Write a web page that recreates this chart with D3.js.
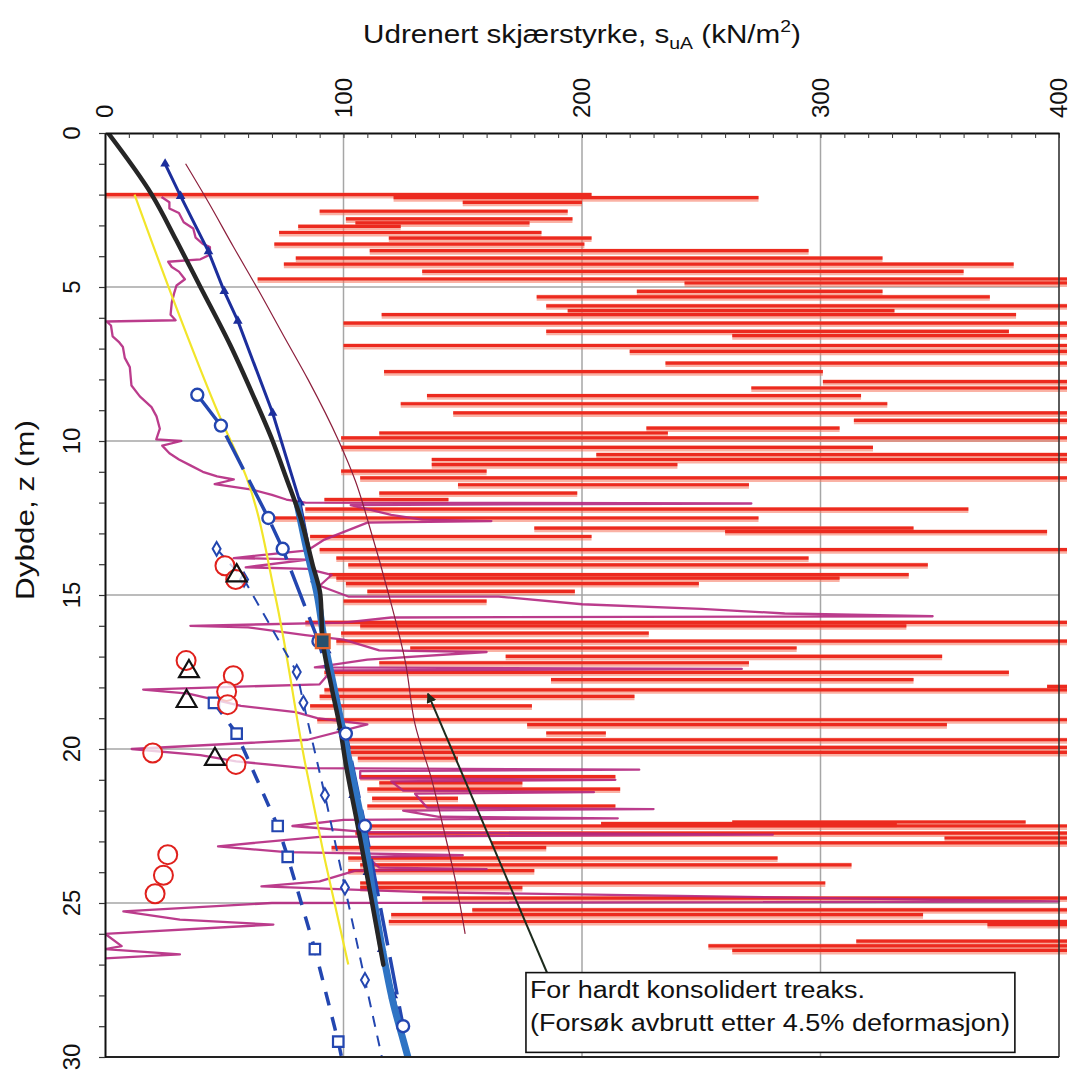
<!DOCTYPE html>
<html>
<head>
<meta charset="utf-8">
<script src="https://cdn.jsdelivr.net/npm/d3@7"></script>
<style>
  body { margin: 0; background: #fff; }
  text { font-family: "Liberation Sans", Arial, sans-serif; fill: #111; }
</style>
</head>
<body>
<div id="my_dataviz"></div>
<script>
// axis ticks
var xTicks = [0, 100, 200, 300, 400];
var yTicks = [0, 5, 10, 15, 20, 25, 30];

// red profile: [depth, from s, to s]
var redSpikes = [
  [2.0, 0, 204], [2.1, 121, 274], [2.25, 150, 200], [2.54, 90, 194], [2.79, 101, 196], [2.92, 105, 178],
  [3.03, 81, 124], [3.23, 73, 183], [3.41, 119, 204], [3.61, 71, 201], [3.82, 111, 295], [4.06, 80, 326],
  [4.26, 75, 381], [4.49, 133, 360], [4.74, 64, 404], [4.87, 243, 404], [5.14, 223, 326], [5.32, 181, 371],
  [5.61, 185, 404], [5.77, 194, 331], [5.9, 116, 382], [6.17, 100, 404], [6.44, 185, 379], [6.58, 263, 404],
  [6.9, 100, 404], [7.09, 220, 404], [7.47, 235, 404], [7.75, 117, 301], [8.07, 301, 404], [8.28, 271, 404],
  [8.53, 135, 317], [8.79, 124, 328], [9.09, 146, 404], [9.33, 314, 404], [9.58, 227, 308], [9.74, 115, 236],
  [9.9, 99, 404], [10.21, 99, 322], [10.44, 206, 404], [10.6, 137, 404], [10.77, 137, 240], [10.98, 99, 160],
  [11.2, 107, 404], [11.42, 148, 270], [11.69, 115, 198], [11.9, 92, 144], [12.21, 84, 362], [12.5, 68, 274],
  [12.83, 180, 339], [12.94, 260, 395], [13.1, 86, 204], [13.53, 90, 404], [13.8, 97, 295], [14.02, 102, 345],
  [14.34, 94, 337], [14.45, 97, 308], [14.63, 101, 249], [14.88, 110, 197], [15.2, 100, 160], [15.89, 84, 404],
  [16.0, 107, 336], [16.24, 99, 228], [16.5, 97, 404], [16.72, 128, 290], [16.99, 168, 351], [17.2, 115, 270],
  [17.51, 92, 379], [17.75, 187, 339], [17.97, 395, 404], [18.08, 92, 404], [18.29, 90, 222], [18.6, 86, 179],
  [19.05, 89, 404], [19.21, 177, 353], [19.48, 185, 210], [19.7, 102, 404], [19.95, 102, 404], [20.11, 103, 404],
  [20.3, 106, 148], [20.9, 107, 214], [21.1, 115, 175], [21.3, 110, 216], [21.6, 112, 148], [21.85, 110, 214],
  [22.37, 263, 386], [22.42, 208, 332], [22.5, 107, 404], [22.73, 105, 404], [22.89, 352, 404], [23.05, 162, 404],
  [23.2, 95, 185], [23.54, 102, 282], [23.76, 107, 313], [23.95, 102, 180], [24.35, 107, 302], [24.5, 107, 175],
  [24.84, 133, 404], [25.22, 154, 404], [25.38, 120, 343], [25.6, 119, 404], [25.7, 370, 404], [26.24, 315, 404],
  [26.39, 253, 404], [26.54, 263, 404]
];

// magenta profile [s, z]
var purpleLine = [
  [23.7, 2.08], [27, 2.25], [27, 2.45], [31, 2.6], [33, 2.9], [37, 3.1], [38, 3.4], [41, 3.6], [44, 3.7], [44, 3.95],
  [40, 4.1], [26.5, 4.18], [28, 4.35], [31, 4.5], [33.5, 4.75], [30, 4.95], [29, 5.2], [28, 5.5], [27.5, 5.9],
  [29.6, 6.08], [0.7, 6.12], [2.5, 6.25], [3.2, 6.6], [6, 6.8], [7.5, 6.95], [8.3, 7.3], [10.4, 7.6], [11.1, 8.2],
  [14.6, 8.55], [19.5, 8.9], [21.6, 9.2], [23, 9.6], [21.5, 9.95], [32, 10.0], [24, 10.15], [27, 10.4], [31, 10.6],
  [36, 10.8], [41, 11.0], [47, 11.15], [54, 11.25], [46, 11.4], [61.7, 11.58], [70, 11.75], [76, 11.9], [84, 12.0],
  [271, 12.03], [103, 12.08], [120, 12.4], [133, 12.55], [162, 12.6], [110, 12.65], [92, 13.2], [85, 13.55],
  [54, 13.8], [85, 13.85], [59, 14.1], [85, 14.15], [95, 14.35], [90, 14.7], [102, 15.05], [165, 15.05],
  [200, 15.3], [250, 15.45], [285, 15.6], [347, 15.69], [120, 15.73], [100, 15.9], [35.8, 16.0], [60, 16.05],
  [84, 16.3], [100, 16.45], [115, 16.8], [160, 16.85], [110, 17.1], [88, 17.35], [267, 17.4], [95, 17.45],
  [90, 17.9], [16, 18.07], [35, 18.2], [57, 18.6], [80, 18.8], [89, 19.0], [110, 19.2], [85, 19.7],
  [11.2, 20.0], [40, 20.2], [55, 20.4], [84, 20.62], [224, 20.67], [107, 20.72], [107, 20.95], [214, 21.0],
  [120, 21.05], [125, 21.35], [205, 21.4], [130, 21.45], [135, 21.9], [230, 21.95], [125, 22.0], [140, 22.2],
  [215, 22.25], [100, 22.3], [78.6, 22.5], [110, 22.7], [280, 22.78], [90, 22.85], [47.4, 23.16], [76, 23.35],
  [150, 23.45], [110, 23.5], [115, 23.85], [160, 23.9], [105, 23.95], [90, 24.3], [65.6, 24.46], [133, 24.65],
  [400, 24.95], [70, 25.0], [7.7, 25.27], [31.4, 25.54], [70.6, 25.7], [0, 26.0], [7, 26.4], [0, 26.5],
  [31.4, 26.67], [0, 26.8]
];

var yellowLine = [[12.4, 2], [28.6, 5.4], [47.5, 9.1], [59.4, 11.2], [71.3, 15], [84, 20.5], [92.2, 23.6], [102, 27]];

var brownLine = [[33.8, 1], [43, 2.2], [53.9, 3.7], [64.3, 5.1], [75, 6.6], [85.1, 8], [98, 10], [105, 11.3],
  [111, 12.8], [119, 15], [126, 17.2], [130, 19.2], [137, 21], [142, 22.6], [147, 24.3], [151, 26]];

var blackLine = [[1.3, 0], [19.6, 2], [30, 3.5], [40, 5], [52.6, 6.9], [62, 8.5], [70.3, 10], [76, 11.2], [82, 12.5],
  [87, 14], [90.3, 15], [91.3, 16.5], [95, 18], [98.5, 19.3], [101, 20.5], [106, 22.5], [112, 25], [116.7, 27]];

var navyTriangles = [[25.2, 1], [31.7, 2.05], [43.4, 3.85], [50, 5.14], [55.7, 6.1], [70.3, 9.09], [81.8, 12],
  [88, 14.5], [93, 16.8], [99, 19.3], [104, 21.5], [110, 24], [116, 26.5], [120.9, 28], [127, 30]];

var steelLine = [[80.5, 12], [84.5, 13.5], [89, 15], [92, 16.5], [96, 18], [100, 19.5], [104, 21], [108, 22.5],
  [111, 24], [114, 25.5], [117.5, 27], [121, 28.3], [124.5, 29.3], [127, 30]];

var circleSeries = [[38.7, 8.5], [48.6, 9.5], [68.5, 12.5], [74.5, 13.5], [89.5, 16.5], [101, 19.5], [109, 22.5], [125, 29]];
var diamondSeries = [[46.8, 13.5], [58.3, 14.5], [80.4, 17.5], [83.2, 18.5], [92.2, 21.5], [100.6, 24.5], [109, 27.5], [117.5, 30.5]];
var squareSeries = [[45.7, 18.5], [55.2, 19.5], [72.4, 22.5], [76.6, 23.5], [88, 26.5], [97.8, 29.5], [100.5, 30.5]];

var redCircles = [[50.3, 14.05], [54.8, 14.5], [34, 17.13], [53.8, 17.62], [51, 18.13], [51.4, 18.56], [20, 20.13],
  [54.9, 20.5], [26.3, 23.43], [24.5, 24.1], [21, 24.7]];
var openTriangles = [[55.2, 14.37], [35.2, 17.48], [34.2, 18.45], [46.1, 20.33]];
var hardSquare = [[91.3, 16.5]];

var noteLines = ["For hardt konsolidert treaks.", "(Forsøk avbrutt etter 4.5% deformasjon)"];
var noteBox = [[176.5, 27.26], [381.5, 29.85]];
var noteArrow = [[185.7, 27.33], [135.4, 18.2]];

var width = 1073, height = 1074;
var plot = { left: 105, top: 133, right: 1059, bottom: 1057 };

var x = d3.scaleLinear().domain([0, 400]).range([plot.left, plot.right]);
var y = d3.scaleLinear().domain([0, 30]).range([plot.top, plot.bottom]);

var svg = d3.select("#my_dataviz").append("svg")
  .attr("width", width)
  .attr("height", height);

var defs = svg.append("defs");
defs.append("clipPath").attr("id", "clip")
  .append("rect")
  .attr("x", plot.left).attr("y", plot.top)
  .attr("width", plot.right - plot.left + 8)
  .attr("height", plot.bottom - plot.top);
defs.append("marker")
  .attr("id", "arrowhead")
  .attr("viewBox", "0 0 10 10")
  .attr("refX", 9).attr("refY", 5)
  .attr("markerWidth", 5).attr("markerHeight", 5)
  .attr("markerUnits", "strokeWidth")
  .attr("orient", "auto")
  .append("path")
  .attr("d", "M0,0 L10,5 L0,10 Z")
  .style("fill", "#1d2b1d");

// grid
svg.append("g").selectAll("line")
  .data([100, 200, 300])
  .enter().append("line")
  .attr("x1", function (d) { return x(d); })
  .attr("x2", function (d) { return x(d); })
  .attr("y1", plot.top).attr("y2", plot.bottom)
  .style("stroke", "#a6a6a6").style("stroke-width", 1.5);
svg.append("g").selectAll("line")
  .data([5, 10, 15, 20, 25])
  .enter().append("line")
  .attr("y1", function (d) { return y(d); })
  .attr("y2", function (d) { return y(d); })
  .attr("x1", plot.left).attr("x2", plot.right)
  .style("stroke", "#a6a6a6").style("stroke-width", 1.5);

var g = svg.append("g").attr("clip-path", "url(#clip)");

var line = d3.line()
  .x(function (d) { return x(d[0]); })
  .y(function (d) { return y(d[1]); });

// red spikes: light halo first, then the red core
g.append("g").selectAll("line")
  .data(redSpikes)
  .enter().append("line")
  .attr("x1", function (d) { return x(d[1]); })
  .attr("x2", function (d) { return x(d[2]); })
  .attr("y1", function (d) { return y(d[0]) + 1; })
  .attr("y2", function (d) { return y(d[0]) + 1; })
  .style("stroke", "#f6745c")
  .style("stroke-width", 6)
  .style("opacity", 0.55);
g.append("g").selectAll("line")
  .data(redSpikes)
  .enter().append("line")
  .attr("x1", function (d) { return x(d[1]); })
  .attr("x2", function (d) { return x(d[2]); })
  .attr("y1", function (d) { return y(d[0]); })
  .attr("y2", function (d) { return y(d[0]); })
  .style("stroke", "#ec2a1f")
  .style("stroke-width", 3.2);

g.append("path").datum(purpleLine)
  .attr("d", line)
  .style("fill", "none").style("stroke", "#b4277f").style("stroke-width", 2.3)
  .style("stroke-linejoin", "round").style("opacity", 0.9);

g.append("path").datum(yellowLine)
  .attr("d", line.curve(d3.curveMonotoneY))
  .style("fill", "none").style("stroke", "#f2e52a").style("stroke-width", 2.2);

g.append("path").datum(brownLine)
  .attr("d", line.curve(d3.curveMonotoneY))
  .style("fill", "none").style("stroke", "#8c1f3c").style("stroke-width", 1.2);

line.curve(d3.curveLinear);

// dashed blue series
g.append("path").datum(diamondSeries)
  .attr("d", line)
  .style("fill", "none").style("stroke", "#2346b0").style("stroke-width", 2)
  .style("stroke-dasharray", "11,9");
g.append("path").datum(squareSeries)
  .attr("d", line)
  .style("fill", "none").style("stroke", "#2346b0").style("stroke-width", 3.5)
  .style("stroke-dasharray", "14,12");
g.append("path").datum(circleSeries)
  .attr("d", line)
  .style("fill", "none").style("stroke", "#2346b0").style("stroke-width", 3.5)
  .style("stroke-dasharray", "38,12");

// navy line with triangles
g.append("path").datum(navyTriangles)
  .attr("d", line)
  .style("fill", "none").style("stroke", "#1c2e9c").style("stroke-width", 3);
g.append("g").selectAll("path")
  .data(navyTriangles)
  .enter().append("path")
  .attr("transform", function (d) { return "translate(" + x(d[0]) + "," + y(d[1]) + ")"; })
  .attr("d", d3.symbol().type(d3.symbolTriangle).size(40))
  .style("fill", "#1c2e9c");

g.append("path").datum(steelLine)
  .attr("d", line.curve(d3.curveMonotoneY))
  .style("fill", "none").style("stroke", "#2f74c4").style("stroke-width", 7);

g.append("path").datum(blackLine)
  .attr("d", line.curve(d3.curveMonotoneY))
  .style("fill", "none").style("stroke", "#262626").style("stroke-width", 4.5)
  .style("stroke-linecap", "round");

line.curve(d3.curveLinear);

// blue markers
function inside(d) { return d[1] <= 30; }
g.append("g").selectAll("path")
  .data(diamondSeries.filter(inside))
  .enter().append("path")
  .attr("transform", function (d) { return "translate(" + x(d[0]) + "," + y(d[1]) + ")"; })
  .attr("d", d3.symbol().type(d3.symbolDiamond).size(55))
  .style("fill", "#fff").style("stroke", "#2346b0").style("stroke-width", 2);
g.append("g").selectAll("path")
  .data(squareSeries.filter(inside))
  .enter().append("path")
  .attr("transform", function (d) { return "translate(" + x(d[0]) + "," + y(d[1]) + ")"; })
  .attr("d", d3.symbol().type(d3.symbolSquare).size(110))
  .style("fill", "#fff").style("stroke", "#2346b0").style("stroke-width", 2.2);
g.append("g").selectAll("circle")
  .data(circleSeries)
  .enter().append("circle")
  .attr("cx", function (d) { return x(d[0]); })
  .attr("cy", function (d) { return y(d[1]); })
  .attr("r", 6)
  .style("fill", "#fff").style("stroke", "#2346b0").style("stroke-width", 2.4);

g.append("g").selectAll("path")
  .data(hardSquare)
  .enter().append("path")
  .attr("transform", function (d) { return "translate(" + x(d[0]) + "," + y(d[1]) + ")"; })
  .attr("d", d3.symbol().type(d3.symbolSquare).size(190))
  .style("fill", "#27506e").style("stroke", "#e2622c").style("stroke-width", 2.2);

// lab results
g.append("g").selectAll("circle")
  .data(redCircles)
  .enter().append("circle")
  .attr("cx", function (d) { return x(d[0]); })
  .attr("cy", function (d) { return y(d[1]); })
  .attr("r", 9.5)
  .style("fill", "rgba(255,255,255,0.75)").style("stroke", "#e0201c").style("stroke-width", 2);
g.append("g").selectAll("path")
  .data(openTriangles)
  .enter().append("path")
  .attr("transform", function (d) { return "translate(" + x(d[0]) + "," + y(d[1]) + ")"; })
  .attr("d", d3.symbol().type(d3.symbolTriangle).size(170))
  .style("fill", "none").style("stroke", "#111").style("stroke-width", 2.2);

// frame
svg.append("line").attr("x1", plot.right).attr("x2", plot.right).attr("y1", plot.top).attr("y2", plot.bottom)
  .style("stroke", "#333").style("stroke-width", 1.6);
svg.append("line").attr("x1", plot.left).attr("x2", plot.right).attr("y1", plot.bottom).attr("y2", plot.bottom)
  .style("stroke", "#222").style("stroke-width", 2);

// top axis, small ticks pointing in
var topAxis = svg.append("g")
  .attr("transform", "translate(0," + plot.top + ")")
  .call(d3.axisTop(x).tickValues(d3.range(0, 401, 10)).tickSizeInner(-5).tickSizeOuter(0).tickFormat(""));
topAxis.select(".domain").style("stroke", "#111").style("stroke-width", 2);
topAxis.selectAll(".tick line").style("stroke", "#333").style("stroke-width", 1);

var leftAxis = svg.append("g")
  .attr("transform", "translate(" + plot.left + ",0)")
  .call(d3.axisLeft(y).tickValues(d3.range(0, 31, 1)).tickSizeInner(6).tickSizeOuter(0).tickFormat(""));
leftAxis.select(".domain").style("stroke", "#111").style("stroke-width", 2);
leftAxis.selectAll(".tick line").style("stroke", "#333").style("stroke-width", 1.2);

// rotated tick labels
svg.append("g").selectAll("text")
  .data(xTicks)
  .enter().append("text")
  .attr("transform", function (d) { return "translate(" + (x(d) + 8) + ",118) rotate(-90)"; })
  .attr("text-anchor", "start")
  .style("font-size", "24px")
  .text(function (d) { return d; });

svg.append("g").selectAll("text")
  .data(yTicks)
  .enter().append("text")
  .attr("transform", function (d) { return "translate(80," + y(d) + ") rotate(-90)"; })
  .attr("text-anchor", "middle")
  .style("font-size", "24px")
  .text(function (d) { return d; });

// axis titles
var title = svg.append("text")
  .attr("x", 363).attr("y", 43)
  .style("font-size", "26px")
  .attr("textLength", 438).attr("lengthAdjust", "spacingAndGlyphs");
title.append("tspan").text("Udrenert skjærstyrke, s");
title.append("tspan").attr("dy", 6).style("font-size", "17px").text("uA");
title.append("tspan").attr("dy", -6).text(" (kN/m");
title.append("tspan").attr("dy", -11).style("font-size", "17px").text("2");
title.append("tspan").attr("dy", 11).text(")");

svg.append("text")
  .attr("transform", "translate(34,510) rotate(-90)")
  .attr("text-anchor", "middle")
  .style("font-size", "26px")
  .attr("textLength", 180).attr("lengthAdjust", "spacingAndGlyphs")
  .text("Dybde, z (m)");

// note with arrow
svg.append("line")
  .attr("x1", x(noteArrow[0][0])).attr("y1", y(noteArrow[0][1]))
  .attr("x2", x(noteArrow[1][0])).attr("y2", y(noteArrow[1][1]))
  .style("stroke", "#1d2b1d").style("stroke-width", 2)
  .attr("marker-end", "url(#arrowhead)");

svg.append("rect")
  .attr("x", x(noteBox[0][0])).attr("y", y(noteBox[0][1]))
  .attr("width", x(noteBox[1][0]) - x(noteBox[0][0]))
  .attr("height", y(noteBox[1][1]) - y(noteBox[0][1]))
  .style("fill", "#fff").style("stroke", "#111").style("stroke-width", 1.6);

svg.append("g").selectAll("text")
  .data(noteLines)
  .enter().append("text")
  .attr("x", x(noteBox[0][0]) + 4)
  .attr("y", function (d, i) { return y(noteBox[0][1]) + 25 + i * 33; })
  .style("font-size", "23px")
  .attr("textLength", function (d, i) { return i == 0 ? 335 : 480; })
  .attr("lengthAdjust", "spacingAndGlyphs")
  .text(function (d) { return d; });
</script>
</body>
</html>
